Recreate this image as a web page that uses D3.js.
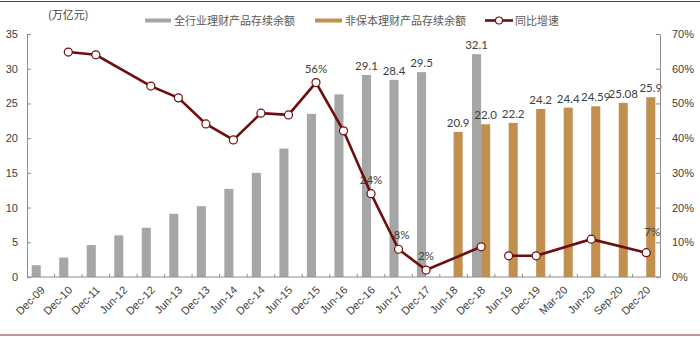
<!DOCTYPE html>
<html>
<head>
<meta charset="utf-8">
<script src="https://cdn.jsdelivr.net/npm/d3@7"></script>
<style>
  html, body { margin: 0; padding: 0; background: #fff; }
  svg { display: block; }
</style>
</head>
<body>
<svg id="chart" width="700" height="337"></svg>
<script>
// Reporting periods
const categories = ["Dec-09","Dec-10","Dec-11","Jun-12","Dec-12","Jun-13","Dec-13","Jun-14",
  "Dec-14","Jun-15","Dec-15","Jun-16","Dec-16","Jun-17","Dec-17","Jun-18","Dec-18",
  "Jun-19","Dec-19","Mar-20","Jun-20","Sep-20","Dec-20"];

// 全行业理财产品存续余额 (万亿元)
const totalBalance = [1.7, 2.8, 4.6, 6.0, 7.1, 9.1, 10.2, 12.7, 15.0, 18.5, 23.5, 26.3,
  29.1, 28.4, 29.5, null, 32.1, null, null, null, null, null, null];

// 非保本理财产品存续余额 (万亿元)
const nonGuaranteed = [null, null, null, null, null, null, null, null, null, null, null, null,
  null, null, null, 20.9, 22.0, 22.2, 24.2, 24.4, 24.59, 25.08, 25.9];

// 同比增速 (%)
const yoyGrowth = [null, 64.8, 64.0, null, 55.0, 51.6, 44.1, 39.5, 47.2, 46.7, 56, 42.1,
  24, 8, 2, null, 8.7, 6.1, 6.1, null, 10.9, null, 7];

// the growth line is broken between these two runs of periods
const growthRuns = [["Dec-09", "Dec-18"], ["Jun-19", "Dec-20"]];

// periods whose total balance is printed above the bar
const totalLabelled = ["Dec-16", "Jun-17", "Dec-17", "Dec-18"];
// periods whose growth rate is printed above the point
const growthLabelled = ["Dec-15", "Dec-16", "Jun-17", "Dec-17", "Dec-20"];

const leftTicks = [0, 5, 10, 15, 20, 25, 30, 35];
const rightTicks = [0, 10, 20, 30, 40, 50, 60, 70];

const GRAY = "#a6a6a6", ORANGE = "#c1904f", LINE = "#6f0c0c", AXIS = "#8c8c8c", TEXT = "#404040";

// per-label shifts for growth labels [dx, dy], pixels
const growthLabelShift = { "Jun-17": [3, 0], "Dec-20": [6, -7] };

const svg = d3.select("#chart");
const m = { left: 27, right: 660, top: 34, bottom: 277 };

const x = d3.scaleBand().domain(categories).range([m.left, m.right]).padding(0);
const yL = d3.scaleLinear().domain([0, 35]).range([m.bottom, m.top]);
const yR = d3.scaleLinear().domain([0, 70]).range([m.bottom, m.top]);
const bw = x.bandwidth() * 0.33;
const cx = c => x(c) + x.bandwidth() / 2;

// frame rules
svg.append("line").attr("x1", 0).attr("x2", 700).attr("y1", 1.5).attr("y2", 1.5)
  .attr("stroke", "#8e2a2a").attr("stroke-width", 1.2);
svg.append("line").attr("x1", 0).attr("x2", 700).attr("y1", 335).attr("y2", 335)
  .attr("stroke", "#8e2a2a").attr("stroke-width", 1.2);

// bars
const totalRows = categories.map((c, i) => ({ c, v: totalBalance[i] })).filter(d => d.v != null);
const ngRows = categories.map((c, i) => ({ c, v: nonGuaranteed[i] })).filter(d => d.v != null);

svg.append("g").selectAll("rect").data(totalRows).join("rect")
  .attr("x", d => cx(d.c) - bw).attr("width", bw)
  .attr("y", d => yL(d.v)).attr("height", d => yL(0) - yL(d.v))
  .attr("fill", GRAY);

svg.append("g").selectAll("rect").data(ngRows).join("rect")
  .attr("x", d => cx(d.c)).attr("width", bw)
  .attr("y", d => yL(d.v)).attr("height", d => yL(0) - yL(d.v))
  .attr("fill", ORANGE);

// bar value labels
const labelFont = "Lato, 'Open Sans', sans-serif";
const LABEL_SIZE = 11.5;
svg.append("g").selectAll("text").data(totalRows.filter(d => totalLabelled.includes(d.c))).join("text")
  .attr("x", d => cx(d.c) - bw / 2).attr("y", d => yL(d.v) - 5)
  .attr("text-anchor", "middle").attr("font-family", labelFont).attr("font-size", LABEL_SIZE)
  .attr("fill", TEXT).text(d => d.v.toFixed(1));

svg.append("g").selectAll("text").data(ngRows).join("text")
  .attr("x", d => cx(d.c) + bw / 2).attr("y", d => yL(d.v) - 5)
  .attr("text-anchor", "middle").attr("font-family", labelFont).attr("font-size", LABEL_SIZE)
  .attr("fill", TEXT).text(d => String(d.v).includes(".") ? String(d.v) : d.v.toFixed(1));

// axes
const axisFont = "'Liberation Sans', Arial, sans-serif";
const gL = svg.append("g").attr("transform", `translate(${m.left},0)`)
  .call(d3.axisLeft(yL).tickValues(leftTicks).tickSizeInner(-4).tickSizeOuter(0).tickPadding(9));
const gR = svg.append("g").attr("transform", `translate(${m.right},0)`)
  .call(d3.axisRight(yR).tickValues(rightTicks).tickSizeInner(-4).tickSizeOuter(0).tickPadding(12)
    .tickFormat(d => d + "%"));
[gL, gR].forEach(g => {
  g.select(".domain").attr("stroke", AXIS);
  g.selectAll(".tick line").attr("stroke", AXIS);
  g.selectAll("text").attr("font-family", axisFont).attr("font-size", 11).attr("fill", TEXT);
});

// category axis: boundary ticks and rotated labels
const gX = svg.append("g").attr("transform", `translate(0,${m.bottom})`);
gX.append("line").attr("x1", m.left).attr("x2", m.right).attr("stroke", AXIS);
gX.selectAll(".bnd").data(categories.slice(1)).join("line").attr("class", "bnd")
  .attr("x1", d => x(d)).attr("x2", d => x(d)).attr("y1", 0).attr("y2", -3).attr("stroke", AXIS);
gX.selectAll("text").data(categories).join("text")
  .attr("transform", d => `translate(${cx(d) + 2},${11}) rotate(-45)`)
  .attr("text-anchor", "end").attr("dy", "0.35em")
  .attr("font-family", axisFont).attr("font-size", 11).attr("fill", TEXT).text(d => d);

// growth labels first, so the line passes over them
const growthRows = categories.map((c, i) => ({ c, i, v: yoyGrowth[i] }));
const shift = d => growthLabelShift[d.c] || [0, 0];
svg.append("g").selectAll("text").data(growthRows.filter(d => growthLabelled.includes(d.c))).join("text")
  .attr("x", d => cx(d.c) + shift(d)[0]).attr("y", d => yR(d.v) - 10 + shift(d)[1])
  .attr("text-anchor", "middle").attr("font-family", labelFont).attr("font-size", LABEL_SIZE)
  .attr("fill", TEXT).text(d => Math.round(d.v) + "%");

// growth line
const line = d3.line().x(d => cx(d.c)).y(d => yR(d.v));
growthRuns.forEach(([a, b]) => {
  const ia = categories.indexOf(a), ib = categories.indexOf(b);
  const pts = growthRows.filter(d => d.i >= ia && d.i <= ib && d.v != null);
  svg.append("path").datum(pts).attr("d", line)
    .attr("fill", "none").attr("stroke", LINE).attr("stroke-width", 2.6);
});
svg.append("g").selectAll("circle").data(growthRows.filter(d => d.v != null)).join("circle")
  .attr("cx", d => cx(d.c)).attr("cy", d => yR(d.v)).attr("r", 4)
  .attr("fill", "#fff").attr("stroke", LINE).attr("stroke-width", 1.2);

// unit label
const cjk = "'Noto Sans CJK SC', sans-serif";
svg.append("text").attr("x", 48).attr("y", 19).attr("font-family", cjk)
  .attr("font-size", 11).attr("fill", TEXT).text("(万亿元)");

// legend
const lg = svg.append("g").attr("font-family", cjk).attr("font-size", 11).attr("fill", "#595959");
lg.append("rect").attr("x", 145).attr("y", 18.5).attr("width", 26).attr("height", 4).attr("fill", GRAY);
lg.append("text").attr("x", 174).attr("y", 24.5).text("全行业理财产品存续余额");
lg.append("rect").attr("x", 315).attr("y", 18.5).attr("width", 27).attr("height", 4).attr("fill", ORANGE);
lg.append("text").attr("x", 345).attr("y", 24.5).text("非保本理财产品存续余额");
lg.append("line").attr("x1", 485).attr("x2", 513).attr("y1", 20.5).attr("y2", 20.5)
  .attr("stroke", LINE).attr("stroke-width", 2.6);
lg.append("circle").attr("cx", 499).attr("cy", 20.5).attr("r", 3.5)
  .attr("fill", "#fff").attr("stroke", LINE).attr("stroke-width", 1.2);
lg.append("text").attr("x", 515).attr("y", 24.5).text("同比增速");
</script>
</body>
</html>
